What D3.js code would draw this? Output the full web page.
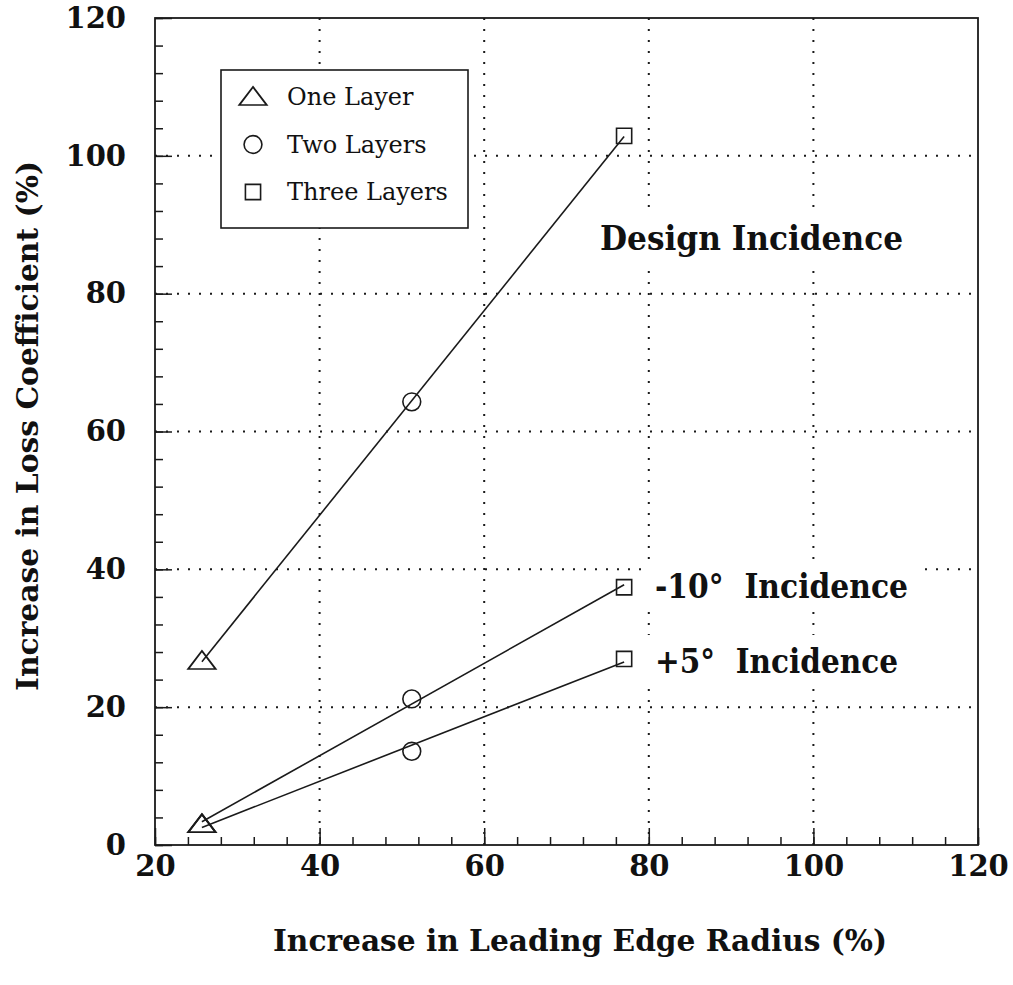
<!DOCTYPE html>
<html>
<head>
<meta charset="utf-8">
<script src="https://cdn.jsdelivr.net/npm/d3@7"></script>
<style>
  html, body { margin: 0; padding: 0; background: #fff; }
  svg { display: block; }
  text { font-family: "DejaVu Serif", "Liberation Serif", serif; fill: #111; }
</style>
</head>
<body>
<svg id="chart" width="1013" height="985"></svg>
<script>
// Leading edge radius increase (%) for one, two and three layers
const radiusIncrease = [25.7, 51.2, 77.0];
// Loss coefficient increase (%) at each incidence
const designLoss = [26.7, 64.3, 102.9];
const minus10Loss = [3.0, 21.2, 37.4];
const plus5Loss = [3.0, 13.6, 27.0];

const layerNames = ["One Layer", "Two Layers", "Three Layers"];
const layerSymbols = ["triangle", "circle", "square"];
const seriesNames = ["Design Incidence", "-10°\u00a0 Incidence", "+5°\u00a0 Incidence"];

const xTicks = [20, 40, 60, 80, 100, 120];
const yTicks = [0, 20, 40, 60, 80, 100, 120];
const xMinorTicks = d3.range(20, 121, 4);
const yMinorTicks = d3.range(0, 121, 4);

const xTitle = "Increase in Leading Edge Radius (%)";
const yTitle = "Increase in Loss Coefficient (%)";

const svg = d3.select("#chart");
const plotL = 155, plotR = 978, plotT = 18, plotB = 845;

const x = d3.scaleLinear().domain([20, 120]).range([plotL, plotR]);
const y = d3.scaleLinear().domain([0, 120]).range([plotB, plotT]);

const ink = "#1a1a1a";

// dotted grid at the inner major ticks
const grid = svg.append("g").attr("class", "grid");
grid.selectAll("line.v").data(xTicks.slice(1, -1)).join("line")
  .attr("x1", d => x(d)).attr("x2", d => x(d))
  .attr("y1", plotT).attr("y2", plotB)
  .attr("stroke", ink).attr("stroke-width", 2)
  .attr("stroke-dasharray", "2,9");
grid.selectAll("line.h").data(yTicks.slice(1, -1)).join("line")
  .attr("x1", plotL).attr("x2", plotR)
  .attr("y1", d => y(d)).attr("y2", d => y(d))
  .attr("stroke", ink).attr("stroke-width", 2)
  .attr("stroke-dasharray", "2,9");

// axes with inward ticks
function styleAxis(g) {
  g.select(".domain").remove();
  g.selectAll(".tick line").attr("stroke", ink).attr("stroke-width", 1.5);
  g.selectAll("text").attr("font-weight", "bold").attr("font-size", 29)
    .attr("font-family", "DejaVu Serif").attr("fill", "#111");
}
svg.append("g").attr("transform", `translate(0,${plotB})`)
  .call(d3.axisBottom(x).tickValues(xMinorTicks).tickSize(-8).tickFormat(""))
  .call(styleAxis);
svg.append("g").attr("transform", `translate(0,${plotB})`)
  .call(d3.axisBottom(x).tickValues(xTicks).tickSize(-17).tickPadding(10).tickFormat(d3.format("d")))
  .call(styleAxis);
svg.append("g").attr("transform", `translate(${plotL},0)`)
  .call(d3.axisLeft(y).tickValues(yMinorTicks).tickSize(-8).tickFormat(""))
  .call(styleAxis);
svg.append("g").attr("transform", `translate(${plotL},0)`)
  .call(d3.axisLeft(y).tickValues(yTicks).tickSize(-17).tickPadding(29).tickFormat(d3.format("d")))
  .call(styleAxis);

// plot frame
svg.append("rect").attr("x", plotL).attr("y", plotT)
  .attr("width", plotR - plotL).attr("height", plotB - plotT)
  .attr("fill", "none").attr("stroke", ink).attr("stroke-width", 1.8);

// least-squares straight line through each series
function fit(xs, ys) {
  const mx = d3.mean(xs), my = d3.mean(ys);
  const sxy = d3.sum(xs, (v, i) => (v - mx) * (ys[i] - my));
  const sxx = d3.sum(xs, v => (v - mx) ** 2);
  const b = sxy / sxx, a = my - b * mx;
  const x0 = d3.min(xs), x1 = d3.max(xs);
  return [[x0, a + b * x0], [x1, a + b * x1]];
}

const series = [designLoss, minus10Loss, plus5Loss];
const line = d3.line().x(d => x(d[0])).y(d => y(d[1]));

const plot = svg.append("g");
series.forEach(vals => {
  plot.append("path").attr("d", line(fit(radiusIncrease, vals)))
    .attr("fill", "none").attr("stroke", ink).attr("stroke-width", 1.6);
});

const symbolGen = {
  triangle: d3.symbol(d3.symbolTriangle, 210),
  circle: d3.symbol(d3.symbolCircle, 250),
  square: d3.symbol(d3.symbolSquare, 230)
};

function drawMarker(g, kind, cx, cy) {
  const yShift = kind === "triangle" ? 2 : 0;
  g.append("path").attr("d", symbolGen[kind]())
    .attr("transform", `translate(${cx},${cy + yShift}) ${kind === "triangle" ? "scale(1.25,0.95)" : ""}`)
    .attr("fill", "none").attr("stroke", ink).attr("stroke-width", 1.6);
}

series.forEach(vals => {
  vals.forEach((v, i) => drawMarker(plot, layerSymbols[i], x(radiusIncrease[i]), y(v)));
});

// series annotations on a white ground that breaks the grid
const notes = [
  { text: seriesNames[0], x: 600, y: 250, size: 34, len: 303 },
  { text: seriesNames[1], x: 655, y: 598, size: 34, len: 253 },
  { text: seriesNames[2], x: 655, y: 673, size: 34, len: 243 }
];
notes.forEach(n => {
  const bg = svg.append("rect").attr("fill", "#fff");
  const t = svg.append("text").attr("x", n.x).attr("y", n.y)
    .attr("font-size", n.size).attr("font-weight", "bold")
    .attr("textLength", n.len).attr("lengthAdjust", "spacingAndGlyphs")
    .text(n.text);
  const bb = t.node().getBBox();
  bg.attr("x", bb.x - 10).attr("y", bb.y - 6).attr("width", bb.width + 20).attr("height", bb.height + 10);
});

// legend
const legend = svg.append("g");
legend.append("rect").attr("x", 221).attr("y", 70).attr("width", 247).attr("height", 158)
  .attr("fill", "#fff").attr("stroke", ink).attr("stroke-width", 1.6);
layerNames.forEach((name, i) => {
  const ly = 97 + i * 47.5;
  drawMarker(legend, layerSymbols[i], 253, ly);
  legend.append("text").attr("x", 287).attr("y", ly + 8)
    .attr("font-size", 24).text(name);
});

// axis titles
svg.append("text").attr("x", 580).attr("y", 951).attr("text-anchor", "middle")
  .attr("font-size", 30).attr("font-weight", "bold")
  .attr("textLength", 614).attr("lengthAdjust", "spacingAndGlyphs").text(xTitle);
svg.append("text").attr("transform", "translate(38,426) rotate(-90)").attr("text-anchor", "middle")
  .attr("font-size", 30).attr("font-weight", "bold")
  .attr("textLength", 530).attr("lengthAdjust", "spacingAndGlyphs").text(yTitle);
</script>
</body>
</html>
